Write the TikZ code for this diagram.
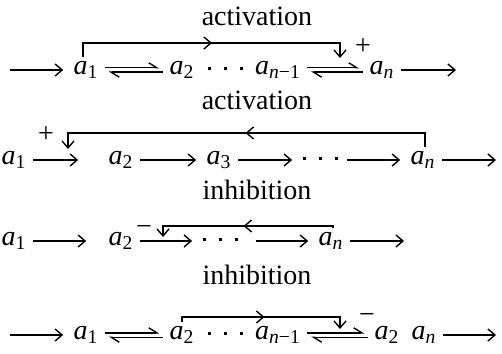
\documentclass[tikz,border=0pt]{standalone}
\usepackage{fontspec}
\setmainfont{Liberation Serif}
\usetikzlibrary{arrows.meta,decorations.markings}
\newcommand{\ta}[1]{\textit{a}\textsubscript{#1}}
\newcommand{\tdot}{\rule[2.4pt]{1.5pt}{1.5pt}}
\newcommand{\tdots}{\tdot\hspace{6.5pt}\tdot\hspace{6.5pt}\tdot}

\begin{document}
\begin{tikzpicture}[
      x=0.5pt,y=-0.5pt,
      >={Straight Barb[length=3.5pt,width=6pt]},
      term/.style={anchor=mid,inner xsep=3pt,inner ysep=2pt,
        font=\fontsize{14}{16}\selectfont},
      lbl/.style={anchor=base,font=\fontsize{14}{16}\selectfont},
      sgn/.style={inner sep=0pt,font=\fontsize{14}{16}\selectfont},
      rxn/.style={line width=0.7pt,->,shorten >=2pt},
      hrp/.style={line width=0.7pt,shorten >=2pt,
        -{Straight Barb[left,length=4pt,width=5pt]}},
      fb/.style={line width=0.7pt,->,postaction={decorate},
        decoration={markings,mark=at position 0.5 with
          {\arrow{Straight Barb[length=3.5pt,width=6pt]}}}}
    ]
    \useasboundingbox (0,0) rectangle (502,353);
    % row 1: activation of a reversible step by the first term
    \node[lbl] (lab1) at (257,26) {activation};
    \coordinate (in1) at (10,70);
    \node[term] (r1a1) at (86,70) {\ta{1}};
    \node[term] (r1a2) at (182,70) {\ta{2}};
    \node[term] (r1dots) at (225,70) {\tdots};
    \node[term] (r1an1) at (278,70) {\ta{\textit{n}−1}};
    \node[term] (r1an) at (382,70) {\ta{\textit{n}}};
    \coordinate (out1) at (460,70);
    \draw[rxn] (in1) -- (r1a1.mid west);
    \draw[hrp] ([yshift=1.1pt]r1a1.mid east) -- ([yshift=1.1pt]r1a2.mid west);
    \draw[hrp] ([yshift=-1.1pt]r1a2.mid west) -- ([yshift=-1.1pt]r1a1.mid east);
    \draw[hrp] ([yshift=1.1pt]r1an1.mid east) -- ([yshift=1.1pt]r1an.mid west);
    \draw[hrp] ([yshift=-1.1pt]r1an.mid west) -- ([yshift=-1.1pt]r1an1.mid east);
    \draw[rxn] (r1an.mid east) -- (out1);
    \coordinate (fb1) at (0,43);
    \coordinate (t1) at (340,58);
    \draw[fb] ([xshift=-1.5pt]r1a1.north) |- (fb1 -| t1) -- (t1);
    \node[sgn] (s1) at (363,47) {+};
    % row 2: activation of the first step by the last term
    \node[lbl] (lab2) at (257,110) {activation};
    \node[term] (r2a1) at (14,160) {\ta{1}};
    \node[term] (r2a2) at (121,160) {\ta{2}};
    \node[term] (r2a3) at (219,160) {\ta{3}};
    \node[term] (r2dots) at (320,160) {\tdots};
    \node[term] (r2an) at (423,160) {\ta{\textit{n}}};
    \coordinate (out2) at (500,160);
    \draw[rxn,shorten >=12pt] (r2a1.mid east) -- (r2a2.mid west);
    \draw[rxn] (r2a2.mid east) -- (r2a3.mid west);
    \draw[rxn] (r2a3.mid east) -- (r2dots.mid west);
    \draw[rxn] ([xshift=1.5pt]r2dots.mid east) -- (r2an.mid west);
    \draw[rxn] (r2an.mid east) -- (out2);
    \coordinate (fb2) at (0,133);
    \coordinate (t2) at (68,149);
    \draw[fb] ([xshift=1pt]r2an.north) |- (fb2 -| t2) -- (t2);
    \node[sgn] (s2) at (46,135) {+};
    % row 3: inhibition of the second step by the last term
    \node[lbl] (lab3) at (257,199) {inhibition};
    \node[term] (r3a1) at (14,241) {\ta{1}};
    \node[term] (r3a2) at (121,241) {\ta{2}};
    \node[term] (r3dots) at (220,241) {\tdots};
    \node[term] (r3an) at (331,241) {\ta{\textit{n}}};
    \coordinate (out3) at (408,241);
    \draw[rxn,shorten >=8pt] (r3a1.mid east) -- (r3a2.mid west);
    \draw[rxn] (r3a2.mid east) -- (r3dots.mid west);
    \draw[rxn] ([xshift=6pt]r3dots.mid east) -- (r3an.mid west);
    \draw[rxn] (r3an.mid east) -- (out3);
    \coordinate (fb3) at (0,226);
    \coordinate (t3) at (163,237);
    \draw[fb] ([xshift=1pt]r3an.north) |- (fb3 -| t3) -- (t3);
    \node[sgn] (s3) at (144,231) {−};
    % row 4: inhibition of a reversible step by the second term
    \node[lbl] (lab4) at (257,284) {inhibition};
    \coordinate (in4) at (10,335);
    \node[term] (r4a1) at (86,335) {\ta{1}};
    \node[term] (r4a2) at (182,335) {\ta{2}};
    \node[term] (r4dots) at (225,335) {\tdots};
    \node[term] (r4an1) at (278,335) {\ta{\textit{n}−1}};
    \node[term] (r4b2) at (387,335) {\ta{2}};
    \node[term] (r4an) at (424,335) {\ta{\textit{n}}};
    \coordinate (out4) at (500,335);
    \draw[rxn] (in4) -- (r4a1.mid west);
    \draw[hrp] ([yshift=1.1pt]r4a1.mid east) -- ([yshift=1.1pt]r4a2.mid west);
    \draw[hrp] ([yshift=-1.1pt]r4a2.mid west) -- ([yshift=-1.1pt]r4a1.mid east);
    \draw[hrp] ([yshift=1.1pt]r4an1.mid east) -- ([yshift=1.1pt]r4b2.mid west);
    \draw[hrp] ([yshift=-1.1pt]r4b2.mid west) -- ([yshift=-1.1pt]r4an1.mid east);
    \draw[rxn] (r4an.mid east) -- (out4);
    \coordinate (fb4) at (0,317);
    \coordinate (t4) at (340,329);
    \draw[fb] (r4a2.north) |- (fb4 -| t4) -- (t4);
    \node[sgn] (s4) at (367,318) {−};
  \end{tikzpicture}
\end{document}
